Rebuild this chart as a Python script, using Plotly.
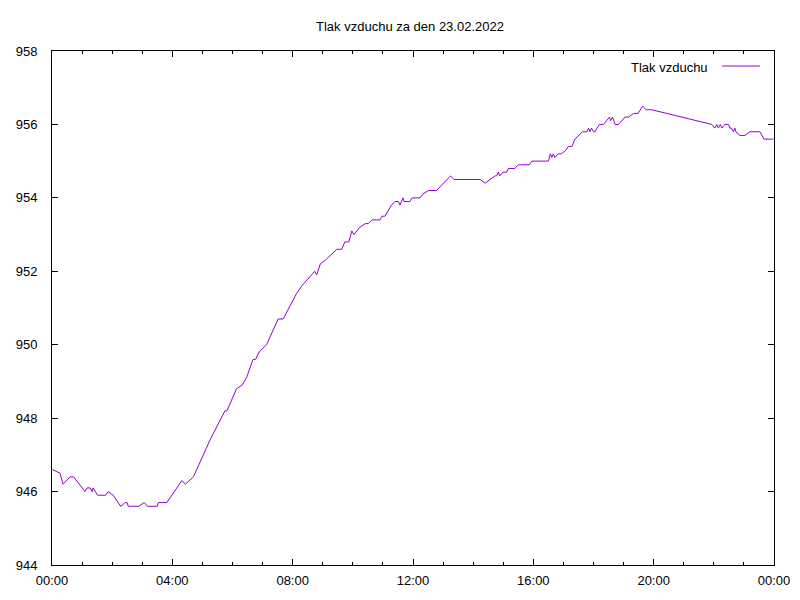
import plotly.graph_objects as go

times = ["00:01","00:16","00:22","00:36","00:43","01:06","01:10","01:16","01:20","01:22",
         "01:31","01:47","01:52","02:02","02:17","02:26","02:30","02:32","02:53","03:04",
         "03:10","03:30","03:32","03:49","04:19","04:26","04:42","04:55","05:15","05:45",
         "05:49","06:08","06:19","06:28","06:35","06:41","06:46","06:53","07:08","07:15",
         "07:31","07:41","08:01","08:08","08:18","08:25","08:38","08:44","08:48","08:55",
         "09:05","09:28","09:38","09:44","09:52","09:58","10:02","10:09","10:14","10:25",
         "10:31","10:38","10:54","10:58","11:04","11:17","11:24","11:31","11:34","11:40",
         "11:42","11:54","11:58","12:14","12:19","12:31","12:47","12:54","13:01","13:10",
         "13:15","13:22","14:07","14:14","14:24","14:34","14:44","14:47","14:50","14:53",
         "14:59","15:07","15:10","15:23","15:30","15:52","15:57","16:30","16:34","16:37",
         "16:40","16:43","16:50","16:56","17:05","17:10","17:17","17:23","17:30","17:38",
         "17:47","17:50","17:53","17:56","18:00","18:03","18:07","18:12","18:20","18:26",
         "18:32","18:34","18:38","18:43","18:50","19:03","19:10","19:20","19:29","19:38",
         "19:45","19:56","21:56","22:02","22:06","22:09","22:13","22:16","22:22","22:29",
         "22:32","22:35","22:39","22:42","22:44","22:52","23:02","23:12","23:32","23:40",
         "23:59"]

pressure = [946.6, 946.5, 946.2, 946.4, 946.4, 946.0, 946.1, 946.1, 946.0, 946.1,
            945.9, 945.9, 946.0, 945.9, 945.6, 945.7, 945.7, 945.6, 945.6, 945.7,
            945.6, 945.6, 945.7, 945.7, 946.3, 946.2, 946.4, 946.8, 947.4, 948.2,
            948.2, 948.8, 948.9, 949.1, 949.4, 949.6, 949.6, 949.8, 950.0, 950.2,
            950.7, 950.7, 951.2, 951.4, 951.6, 951.7, 951.9, 952.0, 951.9, 952.2,
            952.3, 952.6, 952.6, 952.8, 952.8, 953.1, 953.0, 953.1, 953.2, 953.3,
            953.3, 953.4, 953.4, 953.5, 953.5, 953.8, 953.9, 953.9, 953.8, 954.0,
            953.9, 953.9, 954.0, 954.0, 954.1, 954.2, 954.2, 954.3, 954.4, 954.5,
            954.6, 954.5, 954.5, 954.5, 954.4, 954.5, 954.6, 954.6, 954.7, 954.6,
            954.7, 954.7, 954.8, 954.8, 954.9, 954.9, 955.0, 955.0, 955.2, 955.1,
            955.2, 955.1, 955.2, 955.2, 955.3, 955.4, 955.4, 955.6, 955.7, 955.8,
            955.8, 955.9, 955.8, 955.9, 955.8, 955.8, 955.9, 956.0, 956.0, 956.1,
            956.2, 956.1, 956.2, 956.0, 956.0, 956.2, 956.2, 956.3, 956.3, 956.5,
            956.4, 956.4, 956.0, 955.9, 956.0, 955.9, 956.0, 955.9, 956.0, 956.0,
            955.9, 955.9, 955.8, 955.9, 955.8, 955.7, 955.7, 955.8, 955.8, 955.6,
            955.6]

x_tickvals = [0, 4, 8, 12, 16, 20, 24]
x_ticktext = ["00:00", "04:00", "08:00", "12:00", "16:00", "20:00", "00:00"]
y_tickvals = [944, 946, 948, 950, 952, 954, 956, 958]

hours = [int(t[:2]) + int(t[3:]) / 60 for t in times]

font = dict(family="Liberation Sans, Arial, sans-serif", size=13, color="black")

# page has an 8px body margin; figure occupies page pixels 8..800 x 8..600
W, H = 792, 592
fig = go.Figure()
fig.add_trace(go.Scatter(x=hours, y=pressure, mode="lines", name="Tlak vzduchu",
                         line=dict(color="#9400D3", width=1), showlegend=False))

fig.update_layout(
    width=W, height=H,
    margin=dict(l=44, r=26, t=43, b=35, pad=0, autoexpand=False),
    paper_bgcolor="white", plot_bgcolor="white",
    font=font,
    title=dict(text="Tlak vzduchu za den 23.02.2022", x=402 / W, xanchor="center",
               y=1 - 18 / H, yanchor="middle", font=font),
    xaxis=dict(range=[0, 24], tickvals=x_tickvals, ticktext=x_ticktext,
               ticks="inside", ticklen=6, tickcolor="black", tickwidth=1,
               showline=True, linecolor="black", linewidth=1, mirror="ticks",
               showgrid=False, zeroline=False, automargin=False,
               minor=dict(dtick=1, tick0=0, ticks="inside", ticklen=3,
                          tickcolor="black", tickwidth=1, showgrid=False),
               ticklabelstandoff=3),
    yaxis=dict(range=[944, 958], tickvals=y_tickvals,
               ticks="inside", ticklen=6, tickcolor="black", tickwidth=1,
               showline=True, linecolor="black", linewidth=1, mirror="ticks",
               showgrid=False, zeroline=False, automargin=False,
               ticklabelstandoff=11),
)

# legend drawn gnuplot-style: text then line sample
fig.add_annotation(xref="paper", yref="paper", x=(710 - 52) / 722, y=(565 - 67) / 514,
                   text="Tlak vzduchu", showarrow=False, xanchor="right", yanchor="middle",
                   font=font)
fig.add_shape(type="line", xref="paper", yref="paper",
              x0=(722 - 52) / 722, x1=(760 - 52) / 722,
              y0=(565 - 66) / 514, y1=(565 - 66) / 514,
              line=dict(color="#9400D3", width=1))

fig.write_html("out.html")
